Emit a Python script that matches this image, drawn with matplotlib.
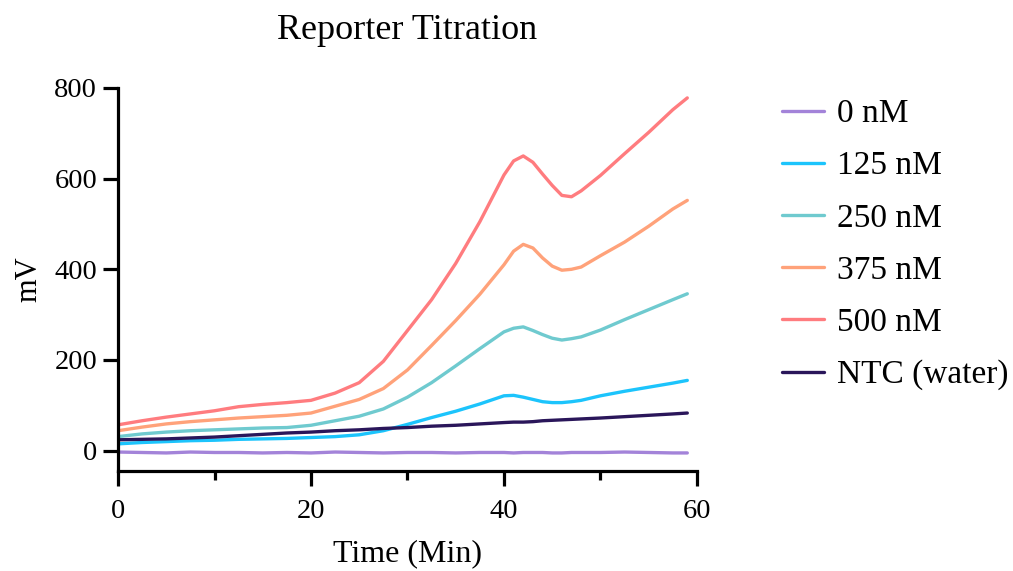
import matplotlib
matplotlib.use("Agg")
import matplotlib.pyplot as plt
from matplotlib.ticker import MultipleLocator

plt.rcParams['font.family'] = ['Liberation Serif', 'DejaVu Serif']

time_min = [0, 2.5, 5, 7.5, 10, 12.5, 15, 17.5, 20, 22.5, 25, 27.5, 30, 32.5, 35,
            37.5, 40, 41, 42, 43, 44, 45, 46, 47, 48, 50, 52.5, 55, 57.5, 59]

nm_0 = [-3, -4, -5, -3, -4, -4, -5, -4, -5, -3, -4, -5, -4, -4, -5,
        -4, -4, -5, -4, -4, -4, -5, -5, -4, -4, -4, -3, -4, -5, -5]
nm_125 = [15, 18, 20, 22, 23, 25, 26, 27, 29, 31, 35, 44, 58, 73, 87,
          103, 121, 122, 118, 113, 108, 106, 106, 108, 111, 121, 131, 140, 149, 155]
nm_250 = [31, 37, 41, 44, 46, 48, 50, 51, 56, 66, 76, 92, 118, 150, 187,
          225, 262, 270, 273, 265, 256, 248, 244, 247, 251, 266, 289, 311, 333, 346]
nm_375 = [44, 52, 59, 64, 68, 72, 75, 78, 83, 98, 113, 137, 178, 232, 287,
          345, 410, 440, 455, 447, 425, 407, 398, 400, 405, 430, 460, 495, 533, 552]
nm_500 = [57, 66, 74, 81, 88, 97, 102, 106, 111, 127, 150, 197, 265, 333, 413,
          505, 608, 639, 650, 636, 610, 585, 563, 560, 573, 607, 655, 702, 752, 778]
ntc = [24, 25, 26, 28, 30, 33, 36, 39, 41, 44, 46, 49, 51, 54, 56,
       59, 62, 63, 63, 64, 66, 67, 68, 69, 70, 72, 75, 78, 81, 83]

labels = ['0 nM', '125 nM', '250 nM', '375 nM', '500 nM', 'NTC (water)']
series = [nm_0, nm_125, nm_250, nm_375, nm_500, ntc]
colors = ['#a383d9', '#1cc4fc', '#6fcacf', '#ffa27a', '#ff7c7f', '#2a165a']

fig = plt.figure(figsize=(10.13, 5.71), dpi=100)
ax = fig.add_axes([0.1165, 0.175, 0.5715, 0.671])

for lab, ys, c in zip(labels, series, colors):
    ax.plot(time_min, ys, color=c, lw=2.4, label=lab, solid_capstyle='round')

ax.set_xlim(0, 60)
ax.set_ylim(-45, 800)
ax.set_xticks([0, 20, 40, 60])
ax.xaxis.set_minor_locator(MultipleLocator(10))
ax.set_yticks([0, 200, 400, 600, 800])

for s in ['top', 'right']:
    ax.spines[s].set_visible(False)
for s in ['left', 'bottom']:
    ax.spines[s].set_linewidth(2.3)

ax.tick_params(axis='both', which='major', length=11, width=2.3, labelsize=20.5)
ax.tick_params(axis='y', which='major', pad=4)
ax.tick_params(axis='x', which='major', pad=9)
ax.tick_params(axis='x', which='minor', length=6.5, width=2.3)

ax.set_xlabel('Time (Min)', fontsize=23, labelpad=11)
ax.set_ylabel('mV', fontsize=22, labelpad=8)
ax.set_title('Reporter Titration', fontsize=26, pad=35)

ax.legend(loc='upper left', bbox_to_anchor=(1.095, 1.05), frameon=False,
          fontsize=24, handlelength=1.25, handletextpad=0.4, labelspacing=0.65)

fig.savefig('out.png', dpi=100)
